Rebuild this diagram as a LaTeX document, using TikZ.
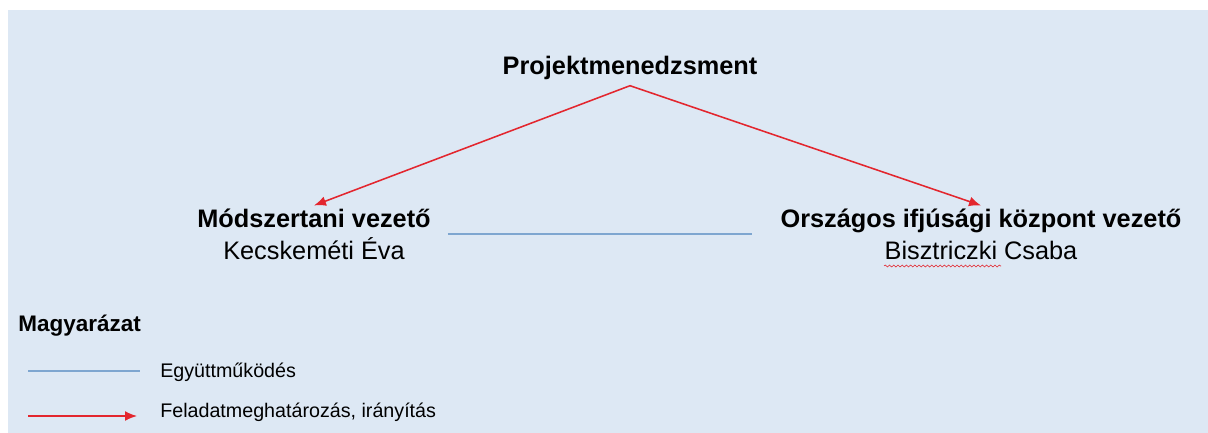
\documentclass[tikz,border=0pt]{standalone}
\usepackage{fontspec}
\setmainfont{Liberation Sans}
\usepackage{xcolor}
\usepackage{tikz}
\usetikzlibrary{arrows.meta,positioning,decorations.pathmorphing}

\definecolor{bgblue}{HTML}{DDE8F4}
\definecolor{coopblue}{HTML}{7EA6D0}
\definecolor{leadred}{HTML}{E3262E}

\begin{document}
\begin{tikzpicture}[x=0.025cm,y=-0.025cm,
  lead/.style={draw=leadred,line width=1.1pt,-{Latex[length=8.5pt,width=7pt]}},
  coop/.style={draw=coopblue,line width=1.1pt},
  person/.style={align=center,inner sep=2pt,font=\fontsize{18}{22.8}\selectfont},
  keytext/.style={anchor=west,inner sep=0pt,font=\fontsize{14}{16}\selectfont}]
\useasboundingbox (0,0) rectangle (1208,433);
\fill[bgblue] (8,10) rectangle (1208,433);

% Top
\node[font=\fontsize{18}{22}\selectfont\bfseries,inner sep=4pt] (pm) at (630,68) {Projektmenedzsment};

% Leaders
\node[person] (modsz) at (314,234) {\textbf{Módszertani vezető}\\Kecskeméti Éva};
\node[person] (orsz) at (981,234) {\textbf{Országos ifjúsági központ vezető}\\Bisztriczki Csaba};
\draw[leadred,line width=0.4pt,decorate,decoration={snake,amplitude=0.7pt,segment length=3pt}]
  (884,266) -- (1001,266);

\draw[lead] (pm.south) -- (modsz.north);
\draw[lead] (pm.south) -- (orsz.north);
\draw[coop,shorten <=10pt,shorten >=18pt] (modsz.east) -- (modsz.east -| orsz.west);

% Legend
\node[anchor=west,inner sep=0pt,font=\fontsize{16}{18}\selectfont\bfseries] (key) at (18,326) {Magyarázat};
\coordinate (coopa) at (28,371);
\coordinate (coopb) at (140,371);
\coordinate (leada) at (28,416);
\coordinate (leadb) at (137,416);
\draw[coop] (coopa) -- (coopb);
\draw[lead] (leada) -- (leadb);
\node[keytext] (coopkey) at (160,372) {Együttműködés};
\node[keytext] (leadkey) at (160,412) {Feladatmeghatározás, irányítás};
\end{tikzpicture}
\end{document}
